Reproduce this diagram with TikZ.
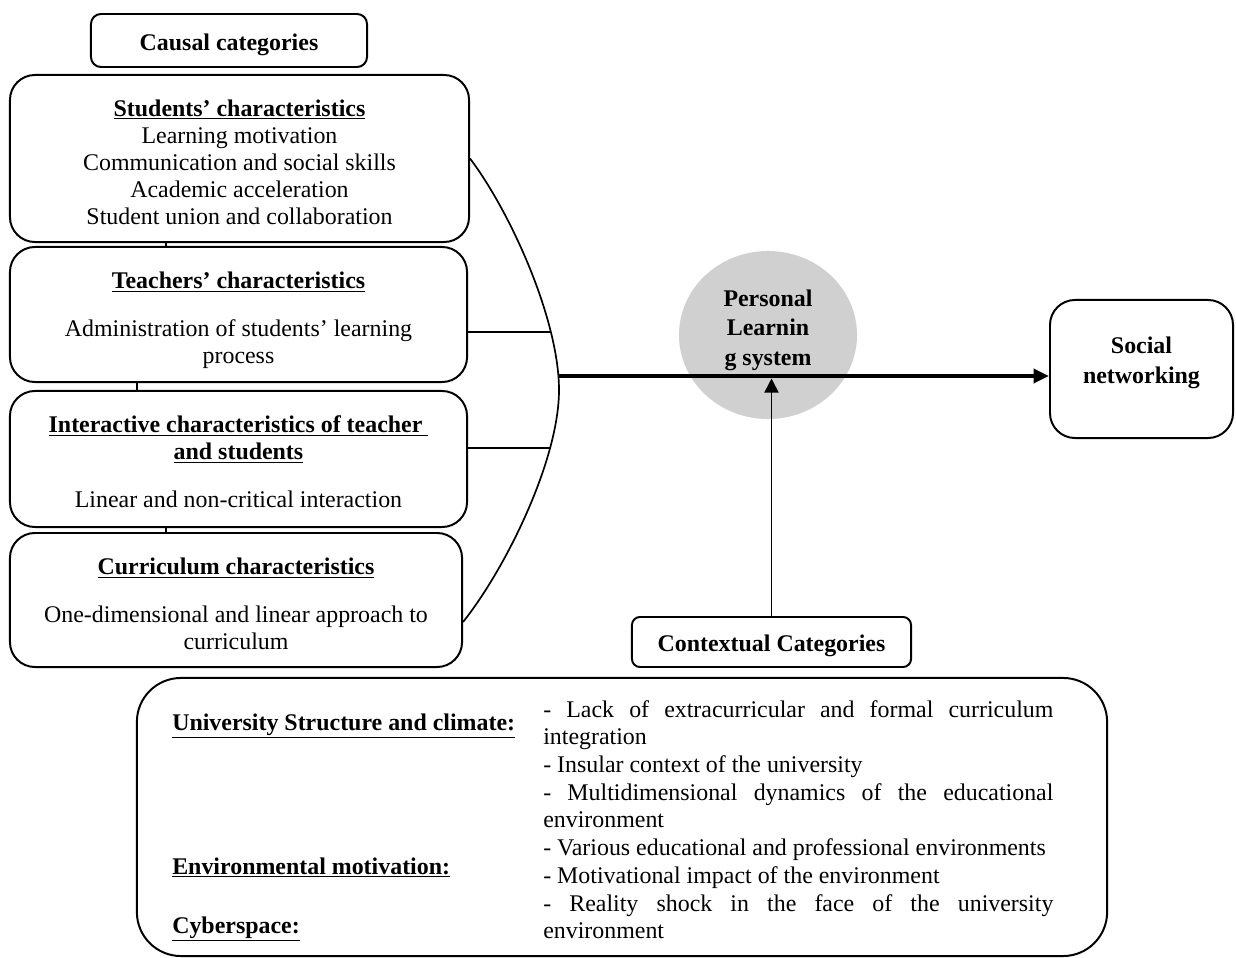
\documentclass[tikz,border=0pt]{standalone}
\usepackage{fontspec}
\setmainfont{Liberation Serif}
\usetikzlibrary{arrows.meta,shapes.geometric,intersections}

\newlength{\colw}
\setlength{\colw}{12.75cm}
\newcommand{\jline}[1]{\makebox[\colw][s]{#1}}
\newcommand{\ttl}[1]{\underline{\textbf{#1}}}
\newcommand{\bodyfont}{\fontsize{17}{19.3}\selectfont}

\tikzset{
  catbox/.style={draw, line width=1.4pt, rounded corners=0.25cm, inner sep=0pt, font=\bodyfont\bfseries, text height=14pt, text depth=0pt},
  charbox/.style={draw, line width=1.4pt, rounded corners=0.625cm, inner sep=0pt},
  boxtext/.style={align=center, inner sep=0pt},
  hubtext/.style={align=center, inner sep=0pt, font=\fontsize{17}{21}\selectfont\bfseries},
  branch/.style={line width=1.2pt},
  mainarrow/.style={line width=2.6pt, -{Triangle[length=11pt,width=10pt]}},
  ctxarrow/.style={line width=1.3pt, -{Triangle[length=10pt,width=10pt]}}
}

\begin{document}
\begin{tikzpicture}[x=0.025cm, y=-0.025cm, font=\bodyfont]
\useasboundingbox (0,0) rectangle (1236,958);

\node[catbox, minimum width=6.9cm, minimum height=1.325cm] (causal) at (229,40.5) {Causal categories};

\node[charbox, minimum width=11.475cm, minimum height=4.175cm] (stud) at (239.5,158.5) {};
\node[boxtext] (studtext) at (239.5,162.5)
  {\ttl{Students’ characteristics}\\Learning motivation\\Communication and social skills\\Academic acceleration\\Student union and collaboration};
\node[charbox, minimum width=11.425cm, minimum height=3.375cm] (teach) at (238.5,314.5) {};
\node[boxtext] (teachtext) at (238.5,320.5)
  {\ttl{Teachers’ characteristics}\\[14.8pt]Administration of students’ learning\\process};
\node[charbox, minimum width=11.425cm, minimum height=3.4cm] (inter) at (238.5,459) {};
\node[boxtext] (intertext) at (238.5,462)
  {\ttl{Interactive characteristics of teacher\ }\\\ttl{and students}\\[14.8pt]Linear and non-critical interaction};
\node[charbox, minimum width=11.3cm, minimum height=3.35cm] (curr) at (236,600) {};
\node[boxtext] (currtext) at (236,604)
  {\ttl{Curriculum characteristics}\\[14.8pt]One-dimensional and linear approach to\\curriculum};

\draw[branch] ([xshift=-1.8375cm]stud.south) -- ([xshift=-1.8375cm]stud.south |- teach.north);
\draw[branch] ([xshift=-2.5375cm]teach.south) -- ([xshift=-2.5375cm]teach.south |- inter.north);
\draw[branch] ([xshift=-1.8125cm]inter.south) -- ([xshift=-1.8125cm]inter.south |- curr.north);

\draw[branch, name path=arcpath] (stud.east) .. controls (511,213) and (559,320) .. (559,390)
  .. controls (559,460) and (506,568) .. ([yshift=-0.55cm]curr.east);

\path[name path=tbranch] ([yshift=-0.4375cm]teach.east) -- ++(200,0);
\draw[branch, name intersections={of=arcpath and tbranch, by=tj}] ([yshift=-0.4375cm]teach.east) -- (tj);
\path[name path=ibranch] ([yshift=0.275cm]inter.east) -- ++(200,0);
\draw[branch, name intersections={of=arcpath and ibranch, by=ij}] ([yshift=0.275cm]inter.east) -- (ij);

\node[ellipse, fill=gray!37, minimum width=4.45cm, minimum height=4.2cm, inner sep=0pt] (pls) at (768,335) {};
\node[hubtext] (plstext) at (768,330) {Personal\\Learnin\\g system};

\node[charbox, minimum width=4.575cm, minimum height=3.45cm] (soc) at (1141.5,369) {};
\node[hubtext] (soctext) at (1141.5,363) {Social\\networking};

\path[name path=mline] ([yshift=-0.175cm]soc.west) -- ++(-700,0);
\path[name intersections={of=arcpath and mline, by=ms}];
\draw[mainarrow] (ms) -- ([yshift=-0.175cm]soc.west);

\node[catbox, minimum width=6.975cm, minimum height=1.25cm, rounded corners=0.2cm] (ctx) at (771.5,642) {Contextual Categories};
\draw[ctxarrow] (ctx.north) -- ([yshift=-1.8pt]ctx.north |- ms);

\node[draw, line width=1.4pt, rounded corners=1.1cm, minimum width=24.25cm, minimum height=6.95cm] (univ) at (622,817) {};

\node[anchor=base west, inner sep=0pt] (ulab) at (172,730) {\ttl{University Structure and climate:}};
\node[anchor=base west, inner sep=0pt] (elab) at (172,874) {\ttl{Environmental motivation:}};
\node[anchor=base west, inner sep=0pt] (clab) at (172,933) {\ttl{Cyberspace:}};

\node[anchor=north west, inner sep=0pt, align=left, font=\fontsize{17}{19.7}\selectfont] (items) at (543,700)
  {\jline{- Lack of extracurricular and formal curriculum}\\
   integration\\
   - Insular context of the university\\
   \jline{- Multidimensional dynamics of the educational}\\
   environment\\
   - Various educational and professional environments\\
   - Motivational impact of the environment\\
   \jline{- Reality shock in the face of the university}\\
   environment};
\end{tikzpicture}
\end{document}
